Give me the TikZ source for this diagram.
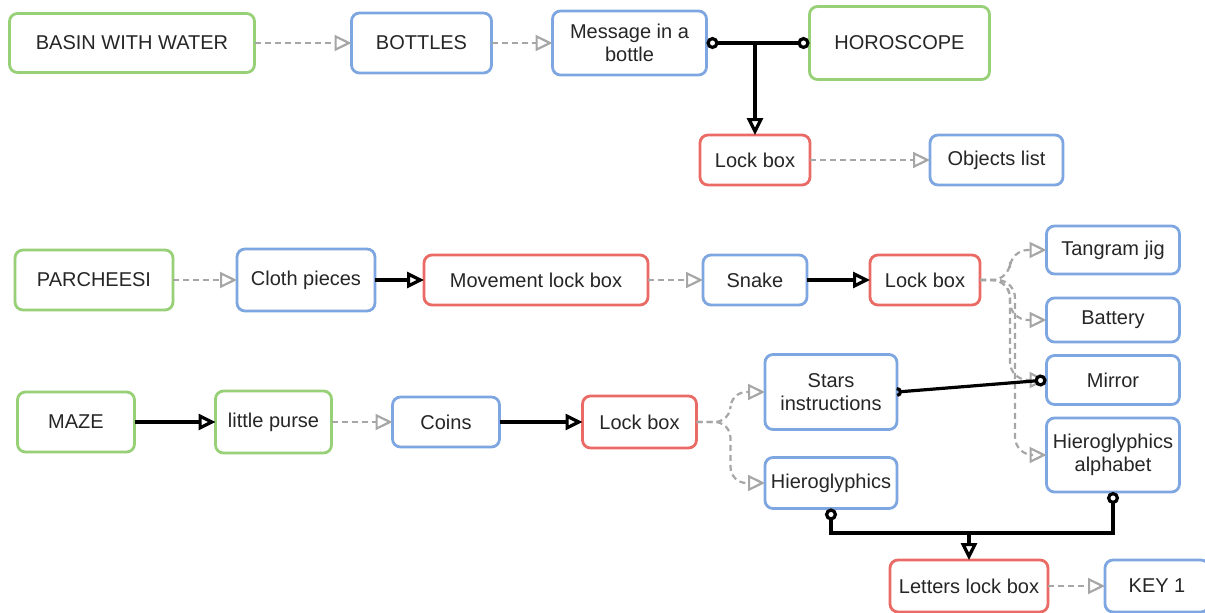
\documentclass[tikz,border=0pt]{standalone}
\usepackage{fontspec}
\setmainfont{Liberation Sans}
\usetikzlibrary{positioning,arrows.meta}

\definecolor{gamegreen}{HTML}{97D077}
\definecolor{itemblue}{HTML}{7EA6E0}
\definecolor{lockred}{HTML}{EA6B66}
\definecolor{hintgray}{HTML}{A6A6A6}

\tikzset{
  box/.style={draw,rounded corners=8pt,line width=2.8pt,fill=white,
    text=black!85,align=center,inner sep=2pt,outer sep=0pt,
    font=\fontsize{20}{23}\selectfont},
  game/.style={box,draw=gamegreen},
  item/.style={box,draw=itemblue},
  lock/.style={box,draw=lockred},
  opentri/.tip={Triangle[open,length=17pt,width=16pt]},
  knob/.tip={Circle[open,length=12pt,width=12pt,fill=white]},
  hint/.style={draw=hintgray,line width=2.2pt,dash pattern=on 6pt off 4pt,
    -{opentri}},
  link/.style={draw=black,line width=3.2pt,-{opentri}}
}

\begin{document}
\begin{tikzpicture}[x=1pt,y=-1pt]
  \useasboundingbox (0,0) rectangle (1205,613);

  % first room
  \node[game,minimum width=245pt,minimum height=59pt] (basin) at (132,43) {BASIN WITH WATER};
  \node[item,minimum width=140pt,minimum height=60pt] (bottles) [right=97pt of basin] {BOTTLES};
  \node[item,minimum width=154pt,minimum height=64pt] (message) [right=61pt of bottles] {Message in a\\bottle};
  \node[game,minimum width=180pt,minimum height=73pt] (horoscope) [right=103pt of message] {HOROSCOPE};
  \node[lock,minimum width=110pt,minimum height=50pt] (lockA) at (755,160) {Lock box};
  \node[item,minimum width=133pt,minimum height=50pt] (objects) [right=120pt of lockA] {Objects list};

  % second room
  \node[game,minimum width=158pt,minimum height=60pt] (parcheesi) at (94,280) {PARCHEESI};
  \node[item,minimum width=138pt,minimum height=62pt] (cloth) [right=64pt of parcheesi] {Cloth pieces};
  \node[lock,minimum width=224pt,minimum height=50pt] (movement) [right=49pt of cloth] {Movement lock box};
  \node[item,minimum width=104pt,minimum height=50pt] (snake) [right=55pt of movement] {Snake};
  \node[lock,minimum width=110pt,minimum height=50pt] (lockB) [right=63pt of snake] {Lock box};
  \node[item,minimum width=133pt,minimum height=48pt] (tangram) at (1113,250) {Tangram jig};
  \node[item,minimum width=133pt,minimum height=44pt] (battery) at (1113,320) {Battery};
  \node[item,minimum width=133pt,minimum height=49pt] (mirror) at (1113,380) {Mirror};
  \node[item,minimum width=133pt,minimum height=74pt] (alphabet) at (1113,455) {Hieroglyphics\\alphabet};

  % third room
  \node[game,minimum width=117pt,minimum height=60pt] (maze) at (76,422) {MAZE};
  \node[game,minimum width=116pt,minimum height=62pt] (purse) [right=81pt of maze] {little purse};
  \node[item,minimum width=107pt,minimum height=50pt] (coins) [right=61pt of purse] {Coins};
  \node[lock,minimum width=114pt,minimum height=52pt] (lockC) [right=83pt of coins] {Lock box};
  \node[item,minimum width=132pt,minimum height=75pt] (stars) at (831,392) {Stars\\instructions};
  \node[item,minimum width=132pt,minimum height=51pt] (hiero) at (831,483) {Hieroglyphics};
  \node[lock,minimum width=158pt,minimum height=52pt] (letters) at (969,586) {Letters lock box};
  \node[item,minimum width=104pt,minimum height=52pt] (key) at (1157,586) {KEY 1};

  \coordinate (join) at ([yshift=27pt]letters.north);

  % clues
  \draw[hint] (basin) -- (bottles);
  \draw[hint] (bottles) -- (message);
  \draw[hint] (lockA) -- (objects);
  \draw[hint] (parcheesi) -- (cloth);
  \draw[hint] (movement) -- (snake);
  \draw[hint] (purse) -- (coins);
  \draw[hint] (letters) -- (key);
  \draw[hint,rounded corners=18pt] (lockB.east) -- ++(30,0) |- (tangram.west);
  \draw[hint,rounded corners=18pt] (lockB.east) -- ++(30,0) |- (battery.west);
  \draw[hint,rounded corners=18pt] (lockB.east) -- ++(30,0) |- (mirror.west);
  \draw[hint,rounded corners=18pt] (lockB.east) -- ++(35,0) |- (alphabet.west);
  \draw[hint,rounded corners=16pt] (lockC.east) -- ++(34,0) |- (stars.west);
  \draw[hint,rounded corners=16pt] (lockC.east) -- ++(34,0) |- (hiero.west);

  % solved links
  \draw[link] (cloth) -- (movement);
  \draw[link] (snake) -- (lockB);
  \draw[link] (maze) -- (purse);
  \draw[link] (coins) -- (lockC);
  \draw[link,{knob}-] (horoscope.west) -- (message.east);
  \draw[link,{knob}-{opentri}] (message.east) -| (lockA.north);
  \draw[link,{Arc Barb[reversed,length=5pt]}-{knob}] (stars.east) -- (mirror.west);
  \draw[link,{knob}-] (alphabet.south) |- (join);
  \draw[link,{knob}-{opentri}] (hiero.south) |- (join) -- (letters.north);
\end{tikzpicture}
\end{document}
